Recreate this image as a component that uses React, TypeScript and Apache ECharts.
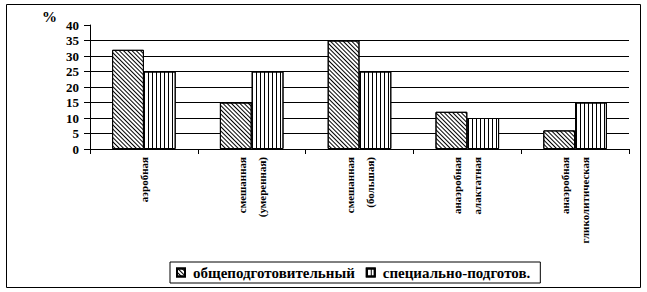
import React, { useEffect, useRef } from "react";
import * as echarts from "echarts";

const categories = [
  "аэробная",
  "смешанная\n(умеренная)",
  "смешанная\n(большая)",
  "анаэробная\nалактатная",
  "анаэробная\nгликолитическая",
];
const seriesNames = ["общеподготовительный", "специально-подготов."];
const generalValues = [32, 15, 35, 12, 6];
const specialValues = [25, 25, 25, 10, 15];

const FONT = "Liberation Serif";

export default function App() {
  const ref = useRef<HTMLDivElement>(null);
  useEffect(() => {
    if (!ref.current) return;
    const chart = echarts.init(ref.current, null, { renderer: "svg" });
    chart.setOption({
      animation: false,
      backgroundColor: "#ffffff",
      grid: { left: 90, right: 18, top: 25, bottom: 143 },
      legend: {
        left: 170,
        top: 262,
        orient: "horizontal",
        itemWidth: 8,
        itemHeight: 8,
        itemGap: 11,
        padding: [3, 10, 3, 6],
        borderColor: "#000",
        borderWidth: 1,
        borderRadius: 0,
        icon: "rect",
        textStyle: { fontFamily: FONT, fontWeight: "bold", fontSize: 15, color: "#000", padding: [0, 0, 0, 3] },
        data: seriesNames,
      },
      graphic: [
        {
          type: "rect",
          shape: { x: 6.5, y: 4.5, width: 634, height: 283 },
          style: { fill: "none", stroke: "#000", lineWidth: 1 },
          silent: true,
        },
        {
          type: "text",
          x: 42,
          y: 9,
          style: { text: "%", fontFamily: FONT, fontWeight: "bold", fontSize: 15, fill: "#000" },
        },
      ],
      xAxis: {
        type: "category",
        data: categories,
        axisLine: { lineStyle: { color: "#000", width: 1 } },
        axisTick: { show: true, length: 5, lineStyle: { color: "#000" } },
        axisLabel: {
          rotate: 90,
          interval: 0,
          margin: 8,
          fontFamily: FONT,
          fontWeight: "bold",
          fontSize: 11,
          lineHeight: 20,
          color: "#000",
        },
      },
      yAxis: {
        type: "value",
        min: 0,
        max: 40,
        interval: 5,
        axisLine: { show: true, lineStyle: { color: "#000", width: 1 } },
        axisTick: { show: true, length: 6, lineStyle: { color: "#000" } },
        axisLabel: {
          margin: 11,
          fontFamily: FONT,
          fontWeight: "bold",
          fontSize: 13,
          color: "#000",
        },
        splitLine: { show: true, showMaxLine: false, lineStyle: { color: "#000", width: 1 } },
      },
      series: [
        {
          name: seriesNames[0],
          type: "bar",
          data: generalValues,
          barGap: "0%",
          barCategoryGap: "41%",
          itemStyle: {
            color: "#ffffff",
            borderColor: "#000",
            borderWidth: 1,
            decal: {
              symbol: "rect",
              symbolSize: 1,
              color: "#000",
              backgroundColor: "#ffffff",
              dashArrayX: [1, 1.2],
              dashArrayY: [4, 0],
              rotation: -Math.PI / 4,
            },
          },
        },
        {
          name: seriesNames[1],
          type: "bar",
          data: specialValues,
          barGap: "0%",
          barCategoryGap: "41%",
          itemStyle: {
            color: "#ffffff",
            borderColor: "#000",
            borderWidth: 1,
            decal: {
              symbol: "rect",
              symbolSize: 1,
              color: "#000",
              backgroundColor: "#ffffff",
              dashArrayX: [1, 3],
              dashArrayY: [4, 0],
              rotation: 0,
            },
          },
        },
      ],
    });
    return () => chart.dispose();
  }, []);
  return (
    <div
      ref={ref}
      style={{ position: "absolute", left: 0, top: 0, width: 647, height: 292 }}
    />
  );
}
